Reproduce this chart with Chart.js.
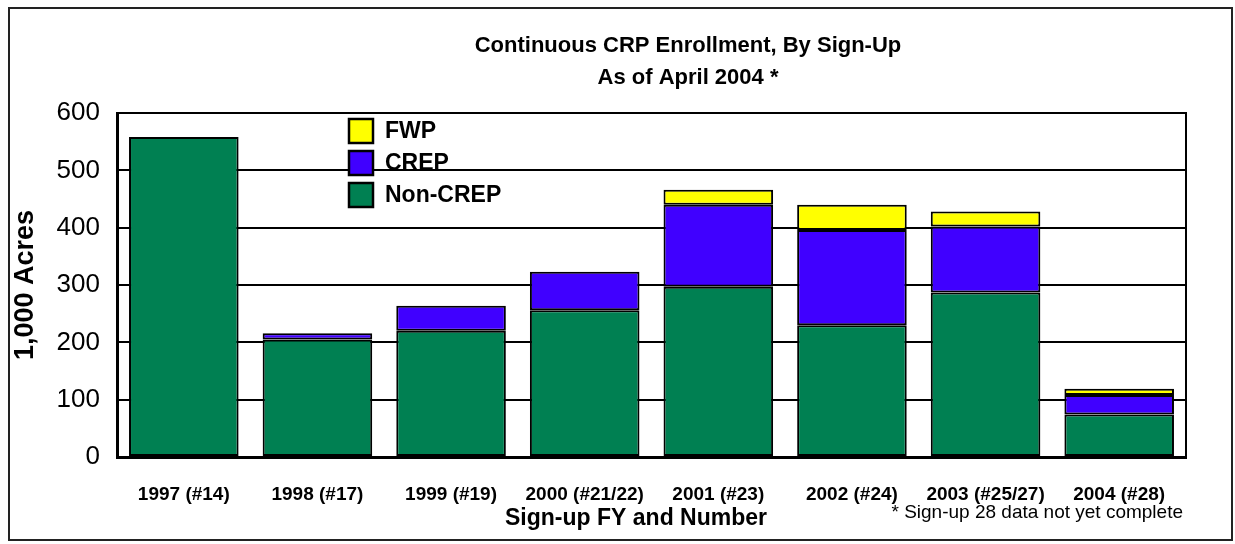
<!DOCTYPE html>
<html>
<head>
<meta charset="utf-8">
<title>Continuous CRP Enrollment</title>
<script src="https://cdn.jsdelivr.net/npm/chart.js@4/dist/chart.umd.min.js"></script>
<style>
  html, body { margin: 0; padding: 0; background: #fff; }
  canvas { display: block; }
</style>
</head>
<body>
<canvas id="crpChart" width="1235" height="544"></canvas>
<script>
/* ── Data ── */
const signups  = ['1997 (#14)', '1998 (#17)', '1999 (#19)', '2000 (#21/22)', '2001 (#23)', '2002 (#24)', '2003 (#25/27)', '2004 (#28)'];
const nonCrep  = [558, 205, 220, 256, 297, 230, 287, 74];
const crep     = [null, 11, 44, 67, 143, 166, 115, 34];
const fwp      = [null, null, null, null, 26, 44, 26, 11];
const yTicks   = [0, 100, 200, 300, 400, 500, 600];

const titleLines = ['Continuous CRP Enrollment, By Sign-Up', 'As of April 2004 *'];
const xTitle     = 'Sign-up FY and Number';
const footnote   = '* Sign-up 28 data not yet complete';

const FONT = "'Liberation Sans', Arial, sans-serif";

/* ── Decorations: frame, title, legend, notes ── */
const decor = {
  id: 'decor',
  afterDraw(chart) {
    const { ctx, chartArea: a } = chart;
    ctx.save();

    // outer frame
    ctx.strokeStyle = '#222';
    ctx.lineWidth = 2;
    ctx.strokeRect(9, 8, 1223, 532);

    // top + right edge of plot box
    ctx.strokeStyle = '#000';
    ctx.lineWidth = 2;
    ctx.beginPath();
    ctx.moveTo(a.left, a.top);
    ctx.lineTo(a.right, a.top);
    ctx.lineTo(a.right, a.bottom);
    ctx.stroke();

    // title
    ctx.fillStyle = '#000';
    ctx.textAlign = 'center';
    ctx.textBaseline = 'middle';
    ctx.font = `bold 22px ${FONT}`;
    titleLines.forEach((line, i) => ctx.fillText(line, 688, 46 + i * 32));

    // x axis title + footnote
    ctx.font = `bold 23px ${FONT}`;
    ctx.fillText(xTitle, 636, 519);
    ctx.textAlign = 'right';
    ctx.font = `19px ${FONT}`;
    ctx.fillText(footnote, 1183, 513);

    // legend (top of stack first)
    const sets = chart.data.datasets.slice().reverse();
    ctx.textAlign = 'left';
    ctx.font = `bold 23px ${FONT}`;
    sets.forEach((ds, i) => {
      const y = 119 + i * 32;
      ctx.fillStyle = ds.backgroundColor;
      ctx.fillRect(349, y, 24, 24);
      ctx.strokeStyle = '#000';
      ctx.lineWidth = 2.5;
      ctx.strokeRect(349, y, 24, 24);
      ctx.fillStyle = '#000';
      ctx.fillText(ds.label, 385, y + 13);
    });

    ctx.restore();
  }
};

/* ── Chart ── */
const barStyle = { borderColor: '#000', borderWidth: 2, borderSkipped: false };

new Chart(document.getElementById('crpChart'), {
  type: 'bar',
  data: {
    labels: signups,
    datasets: [
      { label: 'Non-CREP', data: nonCrep, backgroundColor: '#008052', ...barStyle },
      { label: 'CREP',     data: crep,    backgroundColor: '#4000FF', ...barStyle },
      { label: 'FWP',      data: fwp,     backgroundColor: '#FFFF00', ...barStyle },
    ]
  },
  options: {
    responsive: false,
    animation: false,
    devicePixelRatio: 1,
    layout: { padding: { top: 113, right: 49, left: 0, bottom: 0 } },
    datasets: { bar: { categoryPercentage: 1, barPercentage: 0.82 } },
    plugins: {
      legend: { display: false },
      title: { display: false },
      tooltip: { enabled: false }
    },
    scales: {
      x: {
        stacked: true,
        grid: { display: false },
        border: { display: true, color: '#000', width: 3 },
        ticks: {
          color: '#000',
          padding: 18,
          maxRotation: 0,
          autoSkip: false,
          font: { size: 19, weight: 'bold', family: FONT }
        },
        afterFit: s => { s.height = 87; }
      },
      y: {
        stacked: true,
        min: 0,
        max: 600,
        afterBuildTicks: s => { s.ticks = yTicks.map(v => ({ value: v })); },
        grid: { color: '#000', lineWidth: 2, drawTicks: false },
        border: { display: true, color: '#000', width: 3 },
        ticks: {
          color: '#000',
          padding: 17,
          font: { size: 26, family: FONT }
        },
        title: {
          display: true,
          text: '1,000 Acres',
          color: '#000',
          padding: { top: 9, bottom: 0 },
          font: { size: 27, weight: 'bold', family: FONT }
        },
        afterFit: s => { s.width = 117; }
      }
    }
  },
  plugins: [decor]
});
</script>
</body>
</html>
